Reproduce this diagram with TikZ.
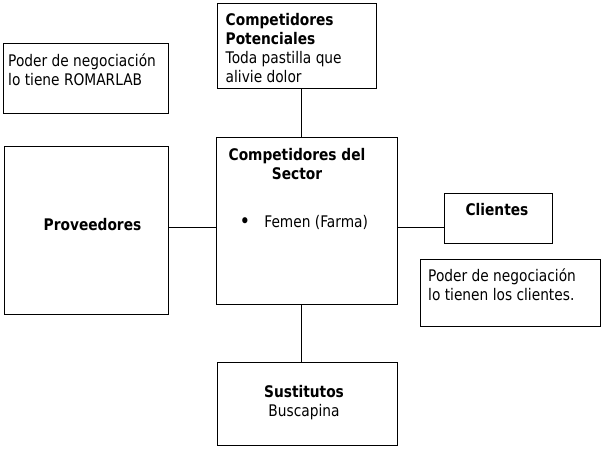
\documentclass[tikz,border=0pt]{standalone}
\usepackage{fontspec}
\setmainfont{DejaVu Sans}[FakeStretch=0.86]
\usetikzlibrary{positioning}

\tikzset{
  box/.style={draw, line width=1pt, inner sep=0pt},
  txt/.style={inner sep=0pt, align=left, font=\fontsize{16}{19}\selectfont},
  link/.style={line width=1pt},
}

\begin{document}
\begin{tikzpicture}[x=1pt, y=-1pt]
    \useasboundingbox [fill=white] (0,0) rectangle (604,450);

    % Boxes
    \node [box, minimum width=165, minimum height=70] (romarlab) at (85.5,78) {};
    \node [box, minimum width=159, minimum height=85] (potenciales) at (296.5,45.5) {};
    \node [box, minimum width=181, minimum height=167] (sector) at (306.5,220.5) {};
    \node [box, minimum width=164, minimum height=168] (proveedores) at (86,230) {};
    \node [box, minimum width=108, minimum height=50] (clientes) at (498,218) {};
    \node [box, minimum width=180, minimum height=67] (negociacion) at (510,292.5) {};
    \node [box, minimum width=180, minimum height=83] (sustitutos) at (307,403.5) {};

    % Texts
    \node [txt, anchor=north west] (romarlabtxt) at (8,53.4)
        {\strut Poder de negociación\\lo tiene ROMARLAB};
    \node [txt, anchor=north west] (potencialestxt) at (225.5,11.7)
        {\strut\textbf{Competidores}\\\textbf{Potenciales}\\Toda pastilla que\\alivie dolor};
    \node [txt, align=center, anchor=north, font=\fontsize{16}{19}\selectfont\bfseries] (sectortxt) at (297,146.7)
        {\strut Competidores del\\Sector};
    \node [txt, anchor=base west] (femen) at (239.5,227)
        {\raisebox{-1.5pt}{\fontsize{21}{19}\selectfont\textbullet}\hspace{14pt}Femen (Farma)};
    \node [txt, anchor=base, font=\fontsize{16}{19}\selectfont\bfseries] (proveedorestxt) at (92.5,230) {Proveedores};
    \node [txt, anchor=base, font=\fontsize{16}{19}\selectfont\bfseries] (clientestxt) at (497,215) {Clientes};
    \node [txt, anchor=north west] (negociaciontxt) at (428,268.4)
        {\strut Poder de negociación\\lo tienen los clientes.};
    \node [txt, align=center, anchor=north] (sustitutostxt) at (304,384)
        {\strut\textbf{Sustitutos}\\Buscapina};

    % Connectors
    \draw [link] (potenciales.south -| 301,0) -- (sector.north -| 301,0);
    \draw [link] (sector.south -| 301,0) -- (sustitutos.north -| 301,0);
    \draw [link] (proveedores.east |- 0,227) -- (sector.west |- 0,227);
    \draw [link] (sector.east |- 0,227) -- (clientes.west |- 0,227);
\end{tikzpicture}
\end{document}
